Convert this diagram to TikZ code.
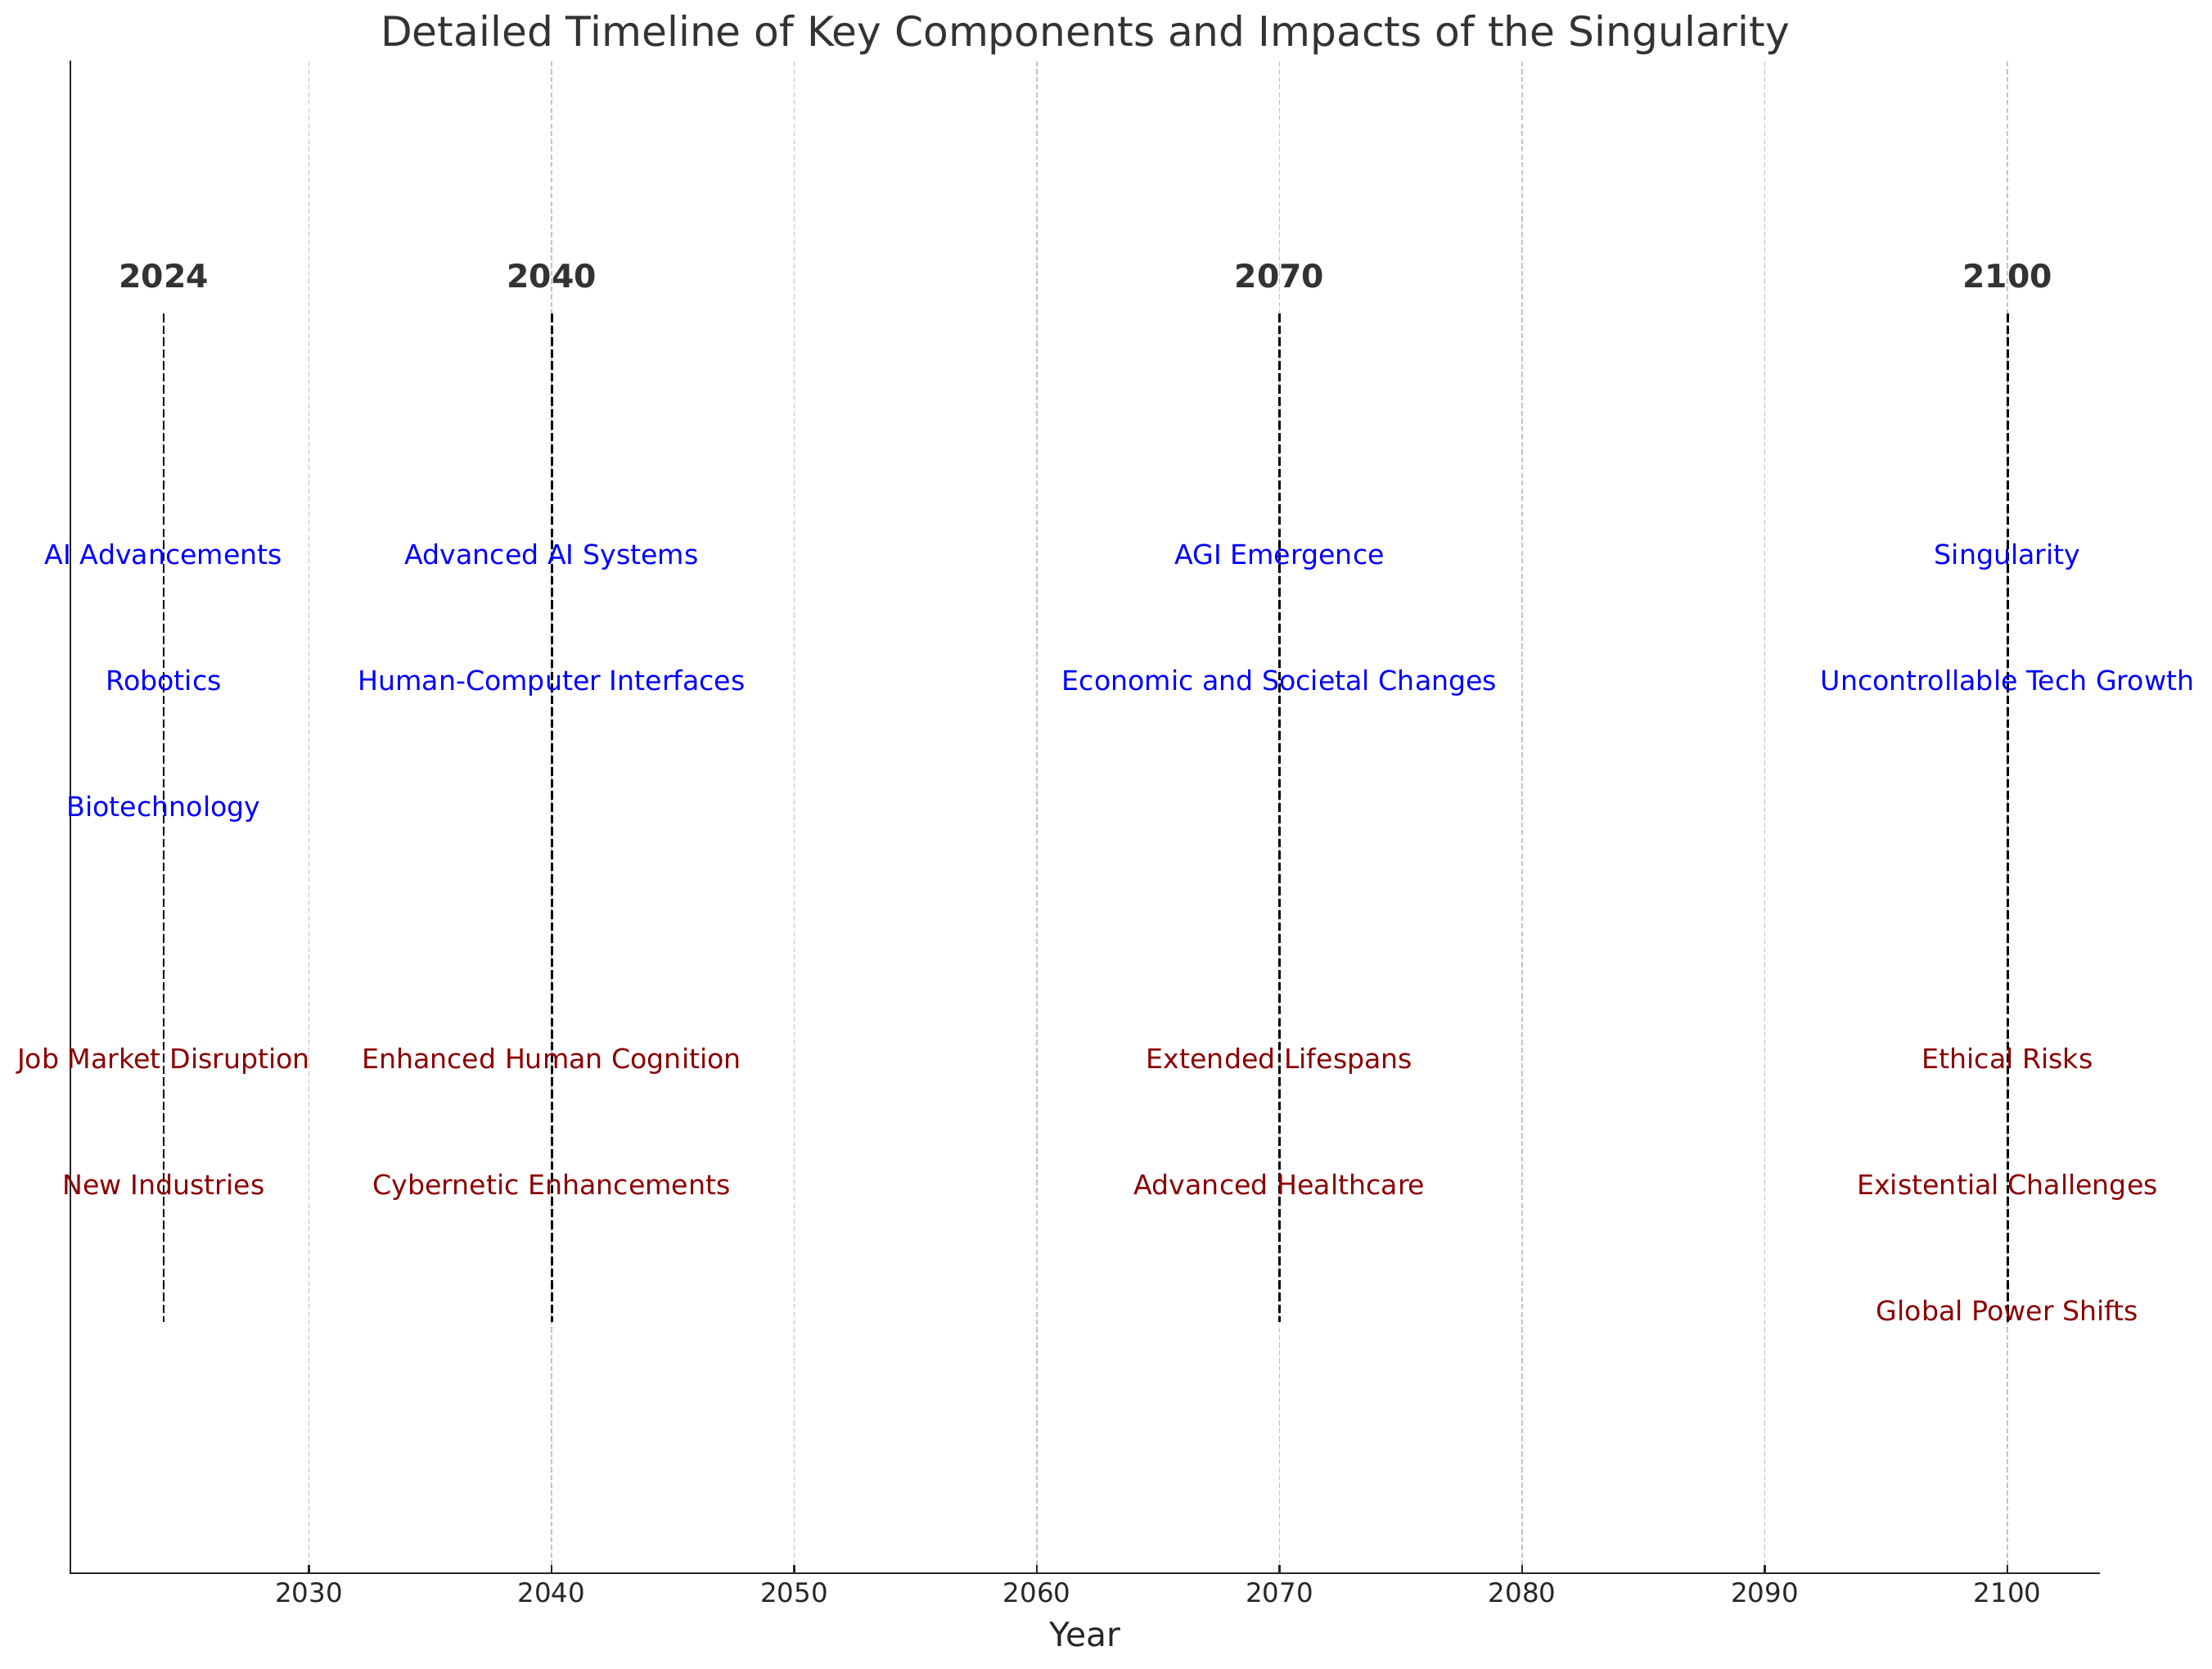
\documentclass[tikz,border=0pt]{standalone}
\usepackage{fontspec}
\setmainfont{DejaVu Sans}
\definecolor{tlblue}{HTML}{0000FF}
\definecolor{tlred}{HTML}{8B0000}
\definecolor{tlgray}{HTML}{333333}
\definecolor{tlaxis}{HTML}{262626}
\definecolor{tlgrid}{HTML}{C4C4C4}

\begin{document}
\begin{tikzpicture}[line join=miter, every node/.style={inner sep=0pt},
  comp/.style={anchor=base,text=tlblue,font=\fontsize{9.45}{11}\selectfont},
  impact/.style={anchor=base,text=tlred,font=\fontsize{9.45}{11}\selectfont},
  yearlab/.style={anchor=base,text=tlgray,font=\fontsize{11.2}{13}\selectfont\bfseries},
  ticklab/.style={anchor=base,text=tlaxis,font=\fontsize{9.25}{11}\selectfont},
  era/.style={black,line width=0.85pt,dash pattern=on 3pt off 1.15pt},
  gridline/.style={tlgrid,line width=0.5pt,dash pattern=on 1.8pt off 0.9pt}]
  \path[use as bounding box] (0,0) rectangle (27.03,20.39);
  % x = 0.8600 + 0.2965(year-2020.17); y in cm from the bottom edge.
  \node[anchor=base,text=tlgray,font=\fontsize{14.3}{17}\selectfont] (title)
    at (13.26,19.82)
    {Detailed Timeline of Key Components and Impacts of the Singularity};
  \foreach \yr/\x in {2030/3.775,2040/6.740,2050/9.705,2060/12.670,
      2070/15.635,2080/18.600,2090/21.565,2100/24.530} {
    \draw[gridline] (\x,1.17)--(\x,19.65);
    \draw[tlaxis,line width=0.6pt] (\x,1.17)--(\x,1.27);
    \node[ticklab] (t\yr) at (\x,0.81) {\yr};
  }
  \draw[tlaxis,line width=0.7pt] (0.86,19.65)--(0.86,1.17)--(25.66,1.17);
  \node[anchor=base,text=tlaxis,font=\fontsize{11.6}{14}\selectfont] (xlab)
    at (13.26,0.27) {Year};
  % one dashed marker per milestone year
  \foreach \yr/\x in {2024/2.000,2040/6.740,2070/15.635,2100/24.530} {
    \draw[era] (\x,16.56)--(\x,4.24);
    \node[yearlab] (y\yr) at (\x,16.87) {\yr};
  }
  % key components (blue)
  \foreach \x/\y/\lab [count=\i] in {2.000/13.49/AI Advancements,
      2.000/11.95/Robotics,2.000/10.41/Biotechnology,
      6.740/13.49/Advanced AI Systems,6.740/11.95/Human-Computer Interfaces,
      15.635/13.49/AGI Emergence,15.635/11.95/Economic and Societal Changes,
      24.530/13.49/Singularity,24.530/11.95/Uncontrollable Tech Growth} {
    \node[comp] (comp\i) at (\x,\y) {\lab};
  }
  % impacts (dark red)
  \foreach \x/\y/\lab [count=\i] in {2.000/7.33/Job Market Disruption,
      2.000/5.79/New Industries,
      6.740/7.33/Enhanced Human Cognition,6.740/5.79/Cybernetic Enhancements,
      15.635/7.33/Extended Lifespans,15.635/5.79/Advanced Healthcare,
      24.530/7.33/Ethical Risks,24.530/5.79/Existential Challenges,
      24.530/4.25/Global Power Shifts} {
    \node[impact] (imp\i) at (\x,\y) {\lab};
  }
\end{tikzpicture}
\end{document}
